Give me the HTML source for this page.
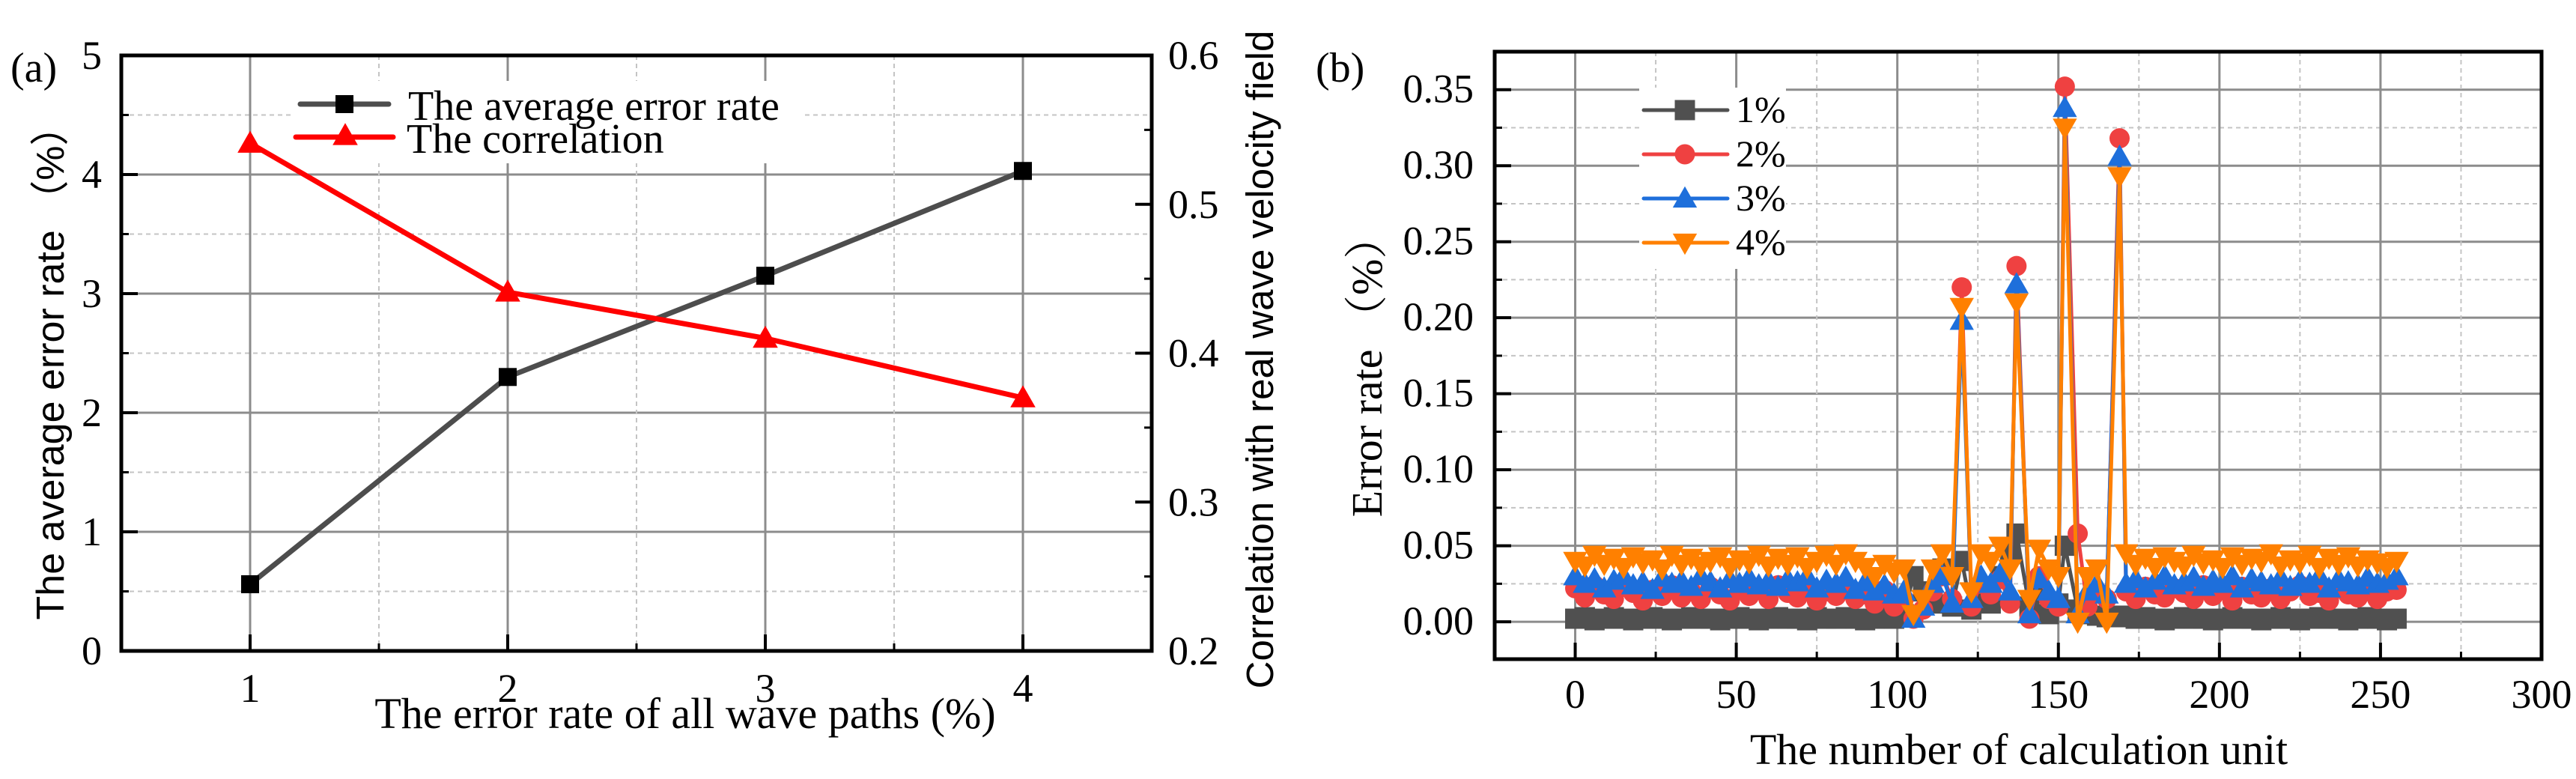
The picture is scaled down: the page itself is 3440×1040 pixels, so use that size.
<!DOCTYPE html>
<html><head><meta charset="utf-8"><style>
body{margin:0;background:#fff}
svg{display:block}
text{font-family:"Liberation Serif","Noto Serif CJK SC",serif;fill:#000}
.sans{font-family:"Liberation Sans","Noto Sans CJK SC",sans-serif}
</style></head><body>
<svg id="chart" width="3440" height="1040" viewBox="0 0 3440 1040" xmlns="http://www.w3.org/2000/svg">
<g id="pa"></g>
<g id="pb"></g>
</svg>
<script>
// Panel (a) data
const aCategories = [1, 2, 3, 4];
const aErrorRate = [0.56, 2.3, 3.15, 4.03];
const aCorrelation = [0.541, 0.441, 0.41, 0.37];
const aLeftTicks = [0, 1, 2, 3, 4, 5];
const aRightTicks = [0.2, 0.3, 0.4, 0.5, 0.6];
const aXTicks = [1, 2, 3, 4];
// Panel (b) data
const bUnits = [0,3,6,9,12,15,18,21,24,27,30,33,36,39,42,45,48,51,54,57,60,63,66,69,72,75,78,81,84,87,90,93,96,99,102,105,108,111,114,117,120,123,126,129,132,135,137,141,144,147,150,152,156,159,162,165,169,171,174,177,180,183,186,189,192,195,198,201,204,207,210,213,216,219,222,225,228,231,234,237,240,243,246,249,252,255];
const bSeries1 = [0.002,0.003,0.001,0.002,0.003,0.002,0.001,0.002,0.003,0.002,0.001,0.002,0.003,0.002,0.002,0.001,0.002,0.003,0.002,0.001,0.002,0.003,0.002,0.002,0.001,0.003,0.002,0.002,0.003,0.002,0.001,0.002,0.003,0.002,
0.005,0.03,0.02,0.012,0.035,0.01,0.04,0.008,0.015,0.012,0.03,0.045,0.058,0.01,0.02,0.005,0.012,0.05,0.008,0.005,0.004,0.003,
0.004,0.003,0.002,0.003,0.002,0.001,0.002,0.003,0.002,0.002,0.001,0.002,0.003,0.002,0.002,0.001,0.002,0.003,0.002,0.001,0.002,0.003,0.002,0.002,0.001,0.002,0.003,0.002,0.001,0.002];
const bSeries2 = [0.022,0.016,0.024,0.018,0.015,0.023,0.019,0.014,0.021,0.017,0.024,0.016,0.02,0.015,0.023,0.018,0.014,0.022,0.017,0.021,0.015,0.024,0.019,0.016,0.022,0.014,0.02,0.017,0.023,0.015,0.018,0.012,0.021,0.01,
0.015,0.002,0.008,0.02,0.03,0.015,0.22,0.01,0.025,0.018,0.028,0.012,0.234,0.002,0.03,0.015,0.01,0.352,0.058,0.01,0.02,0.015,
0.318,0.02,0.015,0.023,0.018,0.016,0.022,0.019,0.015,0.024,0.017,0.021,0.014,0.023,0.018,0.016,0.022,0.015,0.02,0.024,0.017,0.019,0.014,0.022,0.018,0.016,0.023,0.015,0.02,0.021];
const bSeries3 = [0.03,0.025,0.028,0.022,0.027,0.03,0.024,0.026,0.021,0.029,0.025,0.027,0.023,0.03,0.026,0.022,0.028,0.025,0.029,0.024,0.027,0.023,0.028,0.026,0.03,0.022,0.027,0.025,0.029,0.021,0.026,0.02,0.024,0.018,
0.02,0.002,0.01,0.025,0.03,0.012,0.198,0.015,0.03,0.025,0.032,0.02,0.222,0.005,0.028,0.02,0.015,0.338,0.005,0.02,0.025,0.018,
0.306,0.025,0.028,0.022,0.027,0.03,0.024,0.026,0.029,0.023,0.027,0.025,0.03,0.022,0.028,0.026,0.024,0.029,0.023,0.027,0.025,0.03,0.022,0.028,0.026,0.024,0.029,0.025,0.027,0.03];
const bSeries4 = [0.04,0.037,0.044,0.038,0.042,0.036,0.043,0.039,0.041,0.035,0.044,0.038,0.042,0.037,0.04,0.043,0.036,0.041,0.039,0.044,0.037,0.042,0.038,0.043,0.036,0.04,0.044,0.038,0.045,0.04,0.036,0.03,0.038,0.033,
0.035,0.005,0.015,0.035,0.045,0.03,0.207,0.02,0.045,0.04,0.05,0.035,0.21,0.015,0.048,0.035,0.03,0.325,0.0,0.03,0.035,0.0,
0.293,0.045,0.038,0.042,0.036,0.043,0.04,0.037,0.044,0.039,0.041,0.036,0.043,0.038,0.042,0.04,0.045,0.037,0.041,0.039,0.044,0.036,0.042,0.038,0.043,0.037,0.041,0.039,0.036,0.04];
const bSeriesNames = ['1%', '2%', '3%', '4%'];
const bYTicks = [0.00, 0.05, 0.10, 0.15, 0.20, 0.25, 0.30, 0.35];
const bXTicks = [0, 50, 100, 150, 200, 250, 300];

const NS = 'http://www.w3.org/2000/svg';
function mk(parent, tag, attrs, txt) {
  const e = document.createElementNS(NS, tag);
  for (const k in attrs) e.setAttribute(k, attrs[k]);
  if (txt !== undefined) e.textContent = txt;
  parent.appendChild(e);
  return e;
}
function marker(g, shape, x, y, s, color) {
  let e;
  if (shape === 'square') e = mk(g, 'rect', {x: x - s/2, y: y - s/2, width: s, height: s, fill: color});
  else if (shape === 'circle') e = mk(g, 'circle', {cx: x, cy: y, r: s/2, fill: color});
  else if (shape === 'up') e = mk(g, 'polygon', {points: `${x},${y - s*0.6} ${x - s*0.6},${y + s*0.45} ${x + s*0.6},${y + s*0.45}`, fill: color});
  else e = mk(g, 'polygon', {points: `${x},${y + s*0.6} ${x - s*0.6},${y - s*0.45} ${x + s*0.6},${y - s*0.45}`, fill: color});
  return e;
}
const TF = 54;

// ---------- Panel A ----------
const pa = document.getElementById('pa');
const A = {l: 162, r: 1538, t: 74, b: 869};
const ax = v => A.l + (v - 0.5) / 4 * (A.r - A.l);
const ayL = v => A.b - v / 5 * (A.b - A.t);
const ayR = v => A.b - (v - 0.2) / 0.4 * (A.b - A.t);
const ga = mk(pa, 'g', {});


for (let v = 0.5; v < 5; v += 1) mk(ga, 'line', {x1: A.l, x2: A.r, y1: ayL(v), y2: ayL(v), stroke: '#c4c4c4', 'stroke-width': 2, 'stroke-dasharray': '6,5'});
for (let v = 1; v < 5; v += 1) mk(ga, 'line', {x1: A.l, x2: A.r, y1: ayL(v), y2: ayL(v), stroke: '#8c8c8c', 'stroke-width': 3});
for (let v = 1.5; v < 4.5; v += 1) mk(ga, 'line', {x1: ax(v), x2: ax(v), y1: A.t, y2: A.b, stroke: '#c4c4c4', 'stroke-width': 2, 'stroke-dasharray': '6,5'});
aXTicks.forEach(v => mk(ga, 'line', {x1: ax(v), x2: ax(v), y1: A.t, y2: A.b, stroke: '#8c8c8c', 'stroke-width': 3}));
const ta = mk(pa, 'g', {});


aLeftTicks.forEach(v => {
  mk(ta, 'line', {x1: A.l, x2: A.l + 22, y1: ayL(v), y2: ayL(v), stroke: '#000', 'stroke-width': 4});
  const t = mk(ta, 'text', {x: A.l - 26, y: ayL(v) + 18, 'font-size': TF, 'text-anchor': 'end'}, String(v));
  
  
});
for (let v = 0.5; v < 5; v += 1) mk(ta, 'line', {x1: A.l, x2: A.l + 10, y1: ayL(v), y2: ayL(v), stroke: '#000', 'stroke-width': 3});
aRightTicks.forEach(v => {
  mk(ta, 'line', {x1: A.r - 22, x2: A.r, y1: ayR(v), y2: ayR(v), stroke: '#000', 'stroke-width': 4});
  const t = mk(ta, 'text', {x: A.r + 22, y: ayR(v) + 18, 'font-size': TF}, v.toFixed(1));
  
  
});
for (let v = 0.25; v < 0.6; v += 0.1) mk(ta, 'line', {x1: A.r - 10, x2: A.r, y1: ayR(v), y2: ayR(v), stroke: '#000', 'stroke-width': 3});
aXTicks.forEach(v => {
  mk(ta, 'line', {x1: ax(v), x2: ax(v), y1: A.b - 22, y2: A.b, stroke: '#000', 'stroke-width': 4});
  const t = mk(ta, 'text', {x: ax(v), y: 937, 'font-size': TF, 'text-anchor': 'middle'}, String(v));
  
  
});
for (let v = 1.5; v < 4.5; v += 1) mk(ta, 'line', {x1: ax(v), x2: ax(v), y1: A.b - 10, y2: A.b, stroke: '#000', 'stroke-width': 3});
mk(ta, 'rect', {x: A.l, y: A.t, width: A.r - A.l, height: A.b - A.t, fill: 'none', stroke: '#000', 'stroke-width': 5});
const s1 = mk(pa, 'g', {});


mk(s1, 'polyline', {points: aCategories.map((c, i) => ax(c) + ',' + ayL(aErrorRate[i])).join(' '), fill: 'none', stroke: '#4d4d4d', 'stroke-width': 7});
aCategories.forEach((c, i) => {
  const m = marker(s1, 'square', ax(c), ayL(aErrorRate[i]), 24, '#000');
  
  
});
const s2 = mk(pa, 'g', {});


mk(s2, 'polyline', {points: aCategories.map((c, i) => ax(c) + ',' + ayR(aCorrelation[i])).join(' '), fill: 'none', stroke: '#ff0000', 'stroke-width': 7});
aCategories.forEach((c, i) => {
  const m = marker(s2, 'up', ax(c), ayR(aCorrelation[i]), 28, '#ff0000');
  
  
});
const la = mk(pa, 'g', {});


mk(la, 'rect', {x: 392, y: 108, width: 680, height: 110, fill: '#fff'});
mk(la, 'line', {x1: 401, x2: 519, y1: 139, y2: 139, stroke: '#4d4d4d', 'stroke-width': 7, 'stroke-linecap': 'round'});
marker(la, 'square', 460, 139, 24, '#000');
mk(la, 'text', {x: 545, y: 160, 'font-size': 56}, 'The average error rate');
mk(la, 'line', {x1: 395, x2: 525, y1: 183, y2: 183, stroke: '#ff0000', 'stroke-width': 7, 'stroke-linecap': 'round'});
marker(la, 'up', 461, 181, 28, '#ff0000');
mk(la, 'text', {x: 543, y: 204, 'font-size': 56}, 'The correlation');
let t;
t = mk(pa, 'text', {x: 14, y: 109, 'font-size': 56}, '(a)');
 
t = mk(pa, 'text', {x: 915, y: 972, 'font-size': 58, 'text-anchor': 'middle'}, 'The error rate of all wave paths (%)');
 
t = mk(pa, 'text', {x: 0, y: 0, 'font-size': 52, 'text-anchor': 'middle', class: 'sans', transform: 'translate(85,485) rotate(-90)'}, 'The average error rate （%）');
 
t = mk(pa, 'text', {x: 0, y: 0, 'font-size': 51, 'text-anchor': 'middle', class: 'sans', transform: 'translate(1700,480) rotate(-90)'}, 'Correlation with real wave velocity field');
 

// ---------- Panel B ----------
const pb = document.getElementById('pb');
const B = {l: 1996, r: 3394, t: 69, b: 880};
const bx = v => B.l + (v + 25) / 325 * (B.r - B.l);
const by = v => B.b - (v + 0.0246) / 0.3996 * (B.b - B.t);
const gb = mk(pb, 'g', {});


for (let v = 0.025; v < 0.37; v += 0.05) mk(gb, 'line', {x1: B.l, x2: B.r, y1: by(v), y2: by(v), stroke: '#c4c4c4', 'stroke-width': 2, 'stroke-dasharray': '6,5'});
bYTicks.forEach(v => mk(gb, 'line', {x1: B.l, x2: B.r, y1: by(v), y2: by(v), stroke: '#8c8c8c', 'stroke-width': 3}));
for (let v = 25; v < 300; v += 50) mk(gb, 'line', {x1: bx(v), x2: bx(v), y1: B.t, y2: B.b, stroke: '#c4c4c4', 'stroke-width': 2, 'stroke-dasharray': '6,5'});
bXTicks.forEach(v => { if (v < 300) mk(gb, 'line', {x1: bx(v), x2: bx(v), y1: B.t, y2: B.b, stroke: '#8c8c8c', 'stroke-width': 3}); });
const tb = mk(pb, 'g', {});


bYTicks.forEach(v => {
  mk(tb, 'line', {x1: B.l, x2: B.l + 22, y1: by(v), y2: by(v), stroke: '#000', 'stroke-width': 4});
  const e = mk(tb, 'text', {x: B.l - 28, y: by(v) + 17, 'font-size': TF, 'text-anchor': 'end'}, v.toFixed(2));
  
  
});
for (let v = 0.025; v < 0.37; v += 0.05) mk(tb, 'line', {x1: B.l, x2: B.l + 10, y1: by(v), y2: by(v), stroke: '#000', 'stroke-width': 3});
bXTicks.forEach(v => {
  mk(tb, 'line', {x1: bx(v), x2: bx(v), y1: B.b - 22, y2: B.b, stroke: '#000', 'stroke-width': 4});
  const e = mk(tb, 'text', {x: bx(v), y: 945, 'font-size': TF, 'text-anchor': 'middle'}, String(v));
  
  
});
for (let v = 25; v < 300; v += 50) mk(tb, 'line', {x1: bx(v), x2: bx(v), y1: B.b - 10, y2: B.b, stroke: '#000', 'stroke-width': 3});
mk(tb, 'rect', {x: B.l, y: B.t, width: B.r - B.l, height: B.b - B.t, fill: 'none', stroke: '#000', 'stroke-width': 5});
const bColors = ['#505050', '#ef4141', '#1e6fdb', '#ff8000'];
const bShapes = ['square', 'circle', 'up', 'down'];
const bAll = [bSeries1, bSeries2, bSeries3, bSeries4];
bAll.forEach((ser, k) => {
  const g = mk(pb, 'g', {});
  
  
  mk(g, 'polyline', {points: bUnits.map((u, i) => bx(u) + ',' + by(ser[i])).join(' '), fill: 'none', stroke: bColors[k], 'stroke-width': 5});
  bUnits.forEach((u, i) => {
    const m = marker(g, bShapes[k], bx(u), by(ser[i]), 27, bColors[k]);
    
    
  });
});
const lb = mk(pb, 'g', {});


mk(lb, 'rect', {x: 2189, y: 117, width: 196, height: 242, fill: '#fff'});
bSeriesNames.forEach((n, k) => {
  const y = 147 + k * 59;
  const e = mk(lb, 'g', {});
  
  
  mk(e, 'line', {x1: 2195, x2: 2307, y1: y, y2: y, stroke: bColors[k], 'stroke-width': 5, 'stroke-linecap': 'round'});
  marker(e, bShapes[k], 2250, y, 27, bColors[k]);
  mk(e, 'text', {x: 2318, y: y + 16, 'font-size': 50}, n);
});
t = mk(pb, 'text', {x: 1757, y: 109, 'font-size': 56}, '(b)');
 
t = mk(pb, 'text', {x: 2696, y: 1020, 'font-size': 58, 'text-anchor': 'middle'}, 'The number of calculation unit');
 
t = mk(pb, 'text', {x: 0, y: 0, 'font-size': 58, 'text-anchor': 'middle', transform: 'translate(1845,489) rotate(-90)'}, 'Error rate （%）');
 
</script>
</body></html>
